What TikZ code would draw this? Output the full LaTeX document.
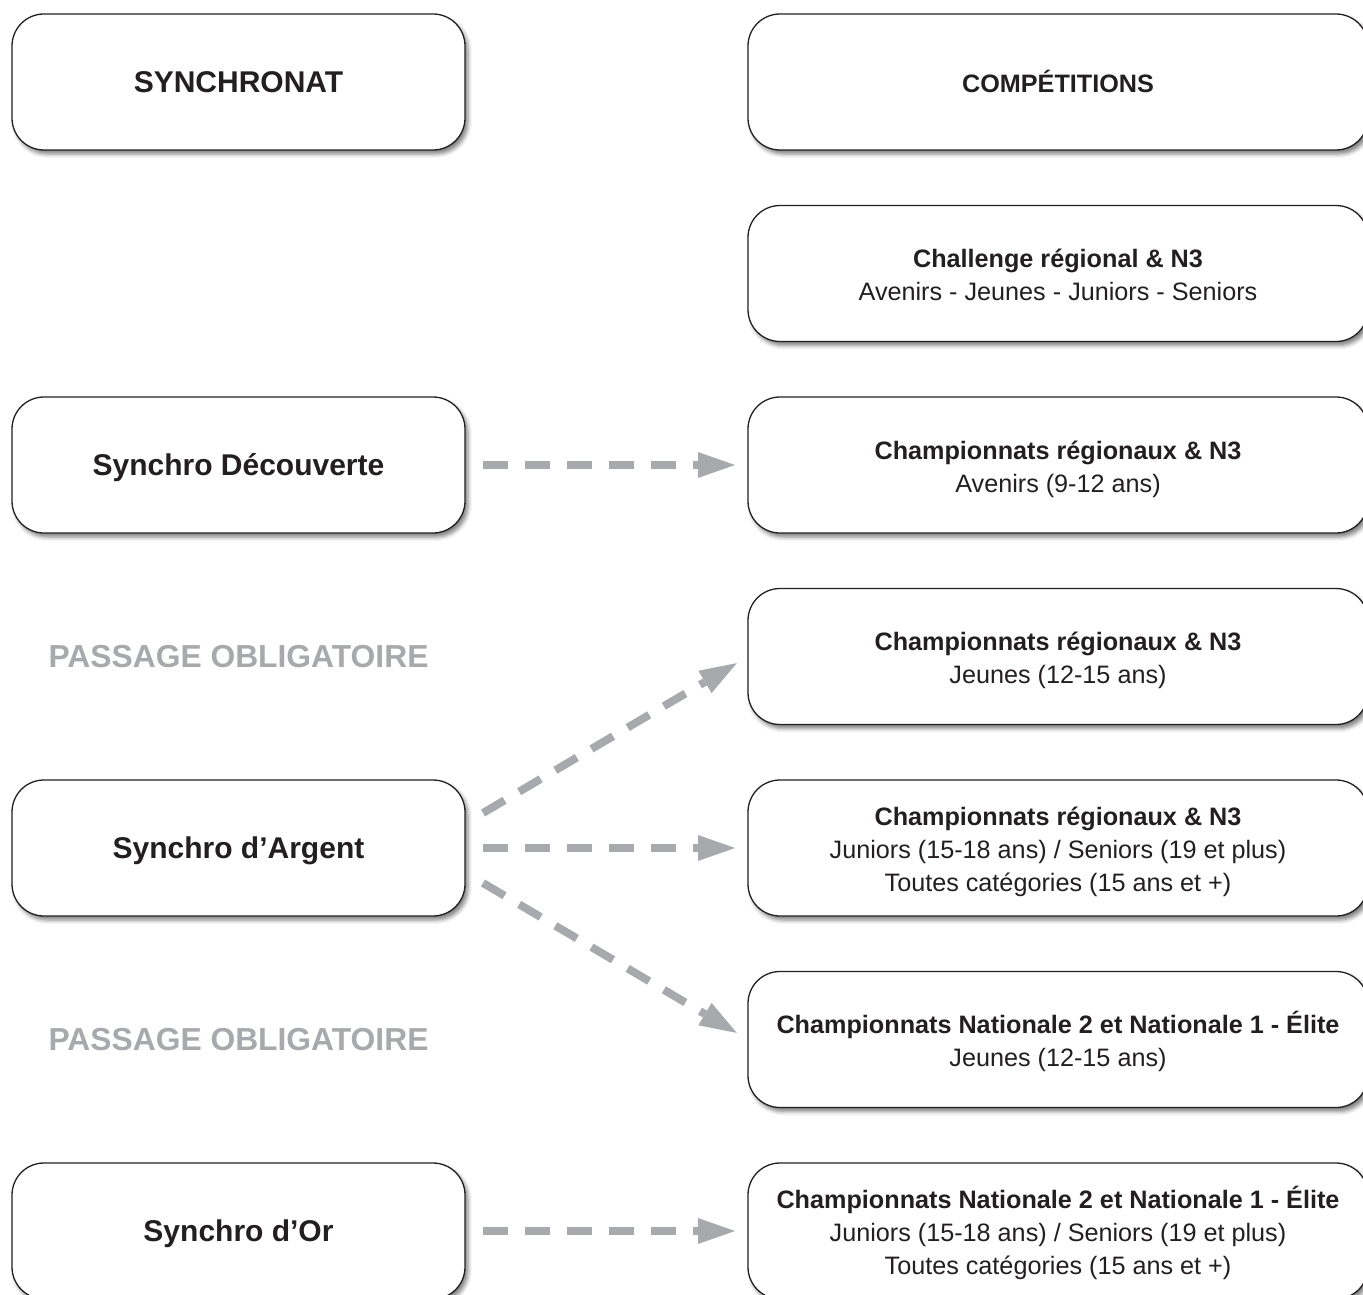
\documentclass[tikz,border=0pt]{standalone}
\usepackage{fontspec}
\setmainfont{Liberation Sans}
\usepackage{xcolor}
\usepackage{tikz}
\usetikzlibrary{positioning}
\usetikzlibrary{arrows.meta}
\usetikzlibrary{shadows.blur}
\definecolor{inkdark}{RGB}{35,31,32}
\definecolor{arrowgrey}{RGB}{167,169,172}
\tikzset{%
  boxleft/.style={rectangle,rounded corners=32pt,draw=inkdark,fill=white,line width=1.3pt,outer sep=0pt,minimum width=453pt,minimum height=136pt,text=inkdark,text height=21.5pt,text depth=0pt,font=\fontsize{30}{36}\selectfont\bfseries,blur shadow={shadow xshift=3pt,shadow yshift=-4pt,shadow blur radius=4pt,shadow opacity=50}}
}
\tikzset{%
  boxright/.style={rectangle,rounded corners=32pt,draw=inkdark,fill=white,line width=1.3pt,outer sep=0pt,minimum width=620pt,minimum height=136pt,text=inkdark,align=center,text height=21pt,text depth=0pt,font=\fontsize{25.2}{33}\selectfont,blur shadow={shadow xshift=3pt,shadow yshift=-4pt,shadow blur radius=4pt,shadow opacity=50}}
}
\tikzset{%
  deuxlignes/.style={text height=54pt},
  troislignes/.style={text height=87pt}
}
\tikzset{%
  passtext/.style={text=arrowgrey,font=\fontsize{31.8}{36}\selectfont\bfseries}
}
\tikzset{%
  flow/.style={draw=arrowgrey,line width=8pt,dash pattern=on 25pt off 17pt,-{Triangle[length=37pt,width=26pt,line width=0pt]},shorten >=13pt}
}
\newcommand\titre[1]{\textbf{#1}\\}

\begin{document}
\begin{tikzpicture}[x=1pt,y=1pt,node distance=55.5pt and 283pt]
    \useasboundingbox (0,0) rectangle (1363,-1295);
    % colonne des competitions
    \node[boxright,font=\fontsize{25.2}{33}\selectfont\bfseries](competitions) at (1058,-82){COMPÉTITIONS};
    \node[boxright,deuxlignes,below=of competitions](challenge){\titre{Challenge régional \& N3}Avenirs - Jeunes - Juniors - Seniors};
    \node[boxright,deuxlignes,below=of challenge](avenirs){\titre{Championnats régionaux \& N3}Avenirs (9-12 ans)};
    \node[boxright,deuxlignes,below=of avenirs](jeunes){\titre{Championnats régionaux \& N3}Jeunes (12-15 ans)};
    \node[boxright,troislignes,below=of jeunes](juniors){\titre{Championnats régionaux \& N3}Juniors (15-18 ans) / Seniors (19 et plus)\\Toutes catégories (15 ans et +)};
    \node[boxright,deuxlignes,below=of juniors](natjeunes){\titre{Championnats Nationale 2 et Nationale 1 - Élite}Jeunes (12-15 ans)};
    \node[boxright,troislignes,below=of natjeunes](natjuniors){\titre{Championnats Nationale 2 et Nationale 1 - Élite}Juniors (15-18 ans) / Seniors (19 et plus)\\Toutes catégories (15 ans et +)};

    % colonne du synchronat
    \node[boxleft,left=of competitions](synchronat){SYNCHRONAT};
    \node[boxleft,left=of avenirs](decouverte){Synchro Découverte};
    \node[passtext](passagea) at (decouverte |- jeunes){PASSAGE OBLIGATOIRE};
    \node[boxleft,left=of juniors](argent){Synchro d’Argent};
    \node[passtext](passageb) at (decouverte |- natjeunes){PASSAGE OBLIGATOIRE};
    \node[boxleft,left=of natjuniors](or){Synchro d’Or};

    \draw[flow] ([xshift=18pt]decouverte.east) -- (avenirs.west);
    \draw[flow] ([xshift=18pt,yshift=35pt]argent.east) -- (jeunes.west);
    \draw[flow] ([xshift=18pt]argent.east) -- (juniors.west);
    \draw[flow] ([xshift=18pt,yshift=-35pt]argent.east) -- (natjeunes.west);
    \draw[flow] ([xshift=18pt]or.east) -- (natjuniors.west);
\end{tikzpicture}
\end{document}
